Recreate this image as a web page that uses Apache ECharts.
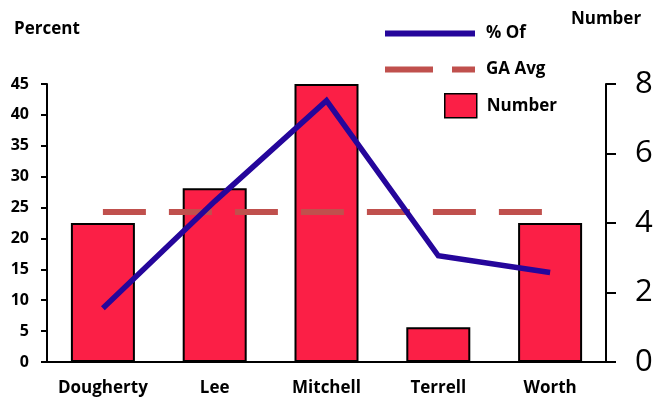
<!DOCTYPE html>
<html>
<head>
<meta charset="utf-8">
<script src="https://cdn.jsdelivr.net/npm/echarts@6/dist/echarts.min.js"></script>
<style>
html,body{margin:0;padding:0;background:#fff;}
#chart{width:658px;height:397px;}
</style>
</head>
<body>
<div id="chart"></div>
<script>
const categories = ['Dougherty', 'Lee', 'Mitchell', 'Terrell', 'Worth'];
const numberValues = [4, 5, 8, 1, 4];
const percentValues = [8.7, 26.0, 42.3, 17.2, 14.5];
const gaAvgValues = [24.3, 24.3, 24.3, 24.3, 24.3];
const leftTicks = { min: 0, max: 45, interval: 5 };
const rightTicks = { min: 0, max: 8, interval: 2 };

const FONT = '"Open Sans", "Liberation Sans", sans-serif';
const BLUE = '#25069B';
const RED = '#FB1F46';
const AVG = '#C0504D';

const legendText = { fontFamily: FONT, fontWeight: 'bold', fontSize: 17, color: '#000', padding: [0, 0, 0, 6] };

const chart = echarts.init(document.getElementById('chart'), null, { renderer: 'canvas' });
chart.setOption({
  animation: false,
  backgroundColor: '#ffffff',
  textStyle: { fontFamily: FONT },
  grid: { left: 47, right: 52, top: 84, bottom: 35, containLabel: false },
  legend: [
    {
      left: 385, top: 25, padding: 0, itemWidth: 90, itemHeight: 6,
      data: [{ name: '% Of', icon: 'rect' }],
      textStyle: legendText,
      selectedMode: false
    },
    {
      left: 385, top: 61, padding: 0, itemWidth: 90, itemHeight: 6,
      data: [{ name: 'GA Avg', icon: 'path://M0,0H48V6H0Z M67,0H90V6H67Z' }],
      textStyle: legendText,
      selectedMode: false
    },
    {
      left: 444, top: 93, padding: 0, itemWidth: 32, itemHeight: 24,
      data: [{ name: 'Number', icon: 'rect', itemStyle: { color: RED, borderColor: '#000', borderWidth: 1.5 } }],
      textStyle: Object.assign({}, legendText, { padding: [0, 0, 0, 5] }),
      selectedMode: false
    }
  ],
  xAxis: {
    type: 'category',
    data: categories,
    axisLine: { show: true, lineStyle: { color: '#000', width: 2 } },
    axisTick: { show: false },
    axisLabel: { color: '#000', fontFamily: FONT, fontWeight: 'bold', fontSize: 17, margin: 18, interval: 0 },
    splitLine: { show: false }
  },
  yAxis: [
    {
      type: 'value',
      position: 'left',
      min: leftTicks.min, max: leftTicks.max, interval: leftTicks.interval,
      name: 'Percent',
      nameLocation: 'end',
      nameGap: 55,
      nameTextStyle: { color: '#000', fontFamily: FONT, fontWeight: 'bold', fontSize: 17, align: 'center', verticalAlign: 'middle' },
      axisLine: { show: true, lineStyle: { color: '#000', width: 2 } },
      axisTick: { show: true, inside: false, length: 6, lineStyle: { color: '#000', width: 2 } },
      axisLabel: { color: '#000', fontFamily: FONT, fontWeight: 'bold', fontSize: 16, margin: 18 },
      splitLine: { show: false }
    },
    {
      type: 'value',
      position: 'right',
      min: rightTicks.min, max: rightTicks.max, interval: rightTicks.interval,
      name: 'Number',
      nameLocation: 'end',
      nameGap: 65,
      nameTextStyle: { color: '#000', fontFamily: FONT, fontWeight: 'bold', fontSize: 17, align: 'center', verticalAlign: 'middle' },
      axisLine: { show: true, lineStyle: { color: '#000', width: 2 } },
      axisTick: { show: true, inside: false, length: 10, lineStyle: { color: '#000', width: 2 } },
      axisLabel: { color: '#000', fontFamily: FONT, fontSize: 31, margin: 29 },
      splitLine: { show: false }
    }
  ],
  series: [
    {
      name: 'Number',
      type: 'bar',
      yAxisIndex: 1,
      data: numberValues,
      barWidth: 64,
      itemStyle: { color: RED, borderColor: '#000', borderWidth: 2 },
      z: 1
    },
    {
      name: 'GA Avg',
      type: 'line',
      yAxisIndex: 0,
      data: gaAvgValues,
      symbol: 'none',
      lineStyle: { color: AVG, width: 6, type: [43, 23], cap: 'butt' },
      itemStyle: { color: AVG },
      z: 2
    },
    {
      name: '% Of',
      type: 'line',
      yAxisIndex: 0,
      data: percentValues,
      symbol: 'none',
      lineStyle: { color: BLUE, width: 5.5, cap: 'butt', join: 'miter' },
      itemStyle: { color: BLUE },
      z: 3
    }
  ]
});
</script>
</body>
</html>
